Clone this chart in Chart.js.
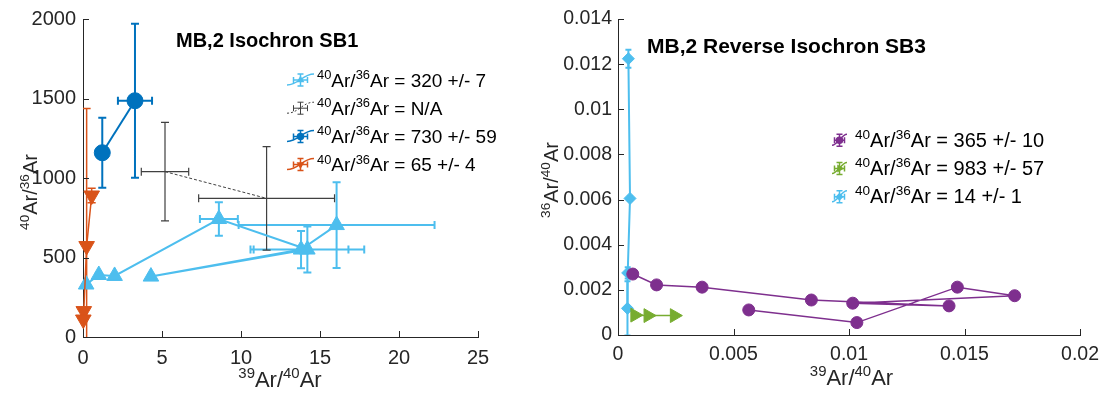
<!DOCTYPE html>
<html>
<head>
<meta charset="utf-8">
<script src="https://cdn.jsdelivr.net/npm/chart.js@4/dist/chart.umd.min.js"></script>
<style>
  html, body { margin: 0; padding: 0; background: #fff; }
  #wrap { position: relative; width: 1107px; height: 393px; overflow: hidden; }
  .panel { position: absolute; top: 0; height: 393px; }
  #pL { left: 0; width: 540px; }
  #pR { left: 540px; width: 567px; }
</style>
</head>
<body>
<div id="wrap">
  <div class="panel" id="pL"><canvas id="cL" width="540" height="393"></canvas></div>
  <div class="panel" id="pR"><canvas id="cR" width="567" height="393"></canvas></div>
</div>
<script>
// ---------- MB,2 Isochron SB1 : 40Ar/36Ar vs 39Ar/40Ar ----------
const isoCyanX    = [0.2, 1.0, 2.0, 8.6, 14.2, 4.3, 13.8, 16.05];
const isoCyanY    = [330, 390, 384, 742, 550, 380, 550, 704];
const isoCyanXErr = [0.1, 0.1, 0.1, 1.2, 3.6, 0.1, 3.0, 6.2];
const isoCyanYErr = [10, 10, 10, 105, 145, 10, 117, 270];

const isoGrayX    = [5.19, 11.62];
const isoGrayY    = [1040, 872];
const isoGrayXErr = [1.5, 4.3];
const isoGrayYErr = [310, 325];

const isoBlueX    = [1.22, 3.29];
const isoBlueY    = [1159, 1486];
const isoBlueXErr = [0.1, 1.08];
const isoBlueYErr = [220, 484];

const isoOrangeX    = [0.55, 0.23, 0.05, 0.02];
const isoOrangeY    = [890, 572, 163, 110];
const isoOrangeXErr = [0.08, 0.05, 0.03, 0.03];
const isoOrangeYErr = [45, 865, 15, 12];

const isoXTicks = [0, 5, 10, 15, 20, 25];
const isoXTickLabels = ['0', '5', '10', '15', '20', '25'];
const isoYTicks = [0, 500, 1000, 1500, 2000];
const isoYTickLabels = ['0', '500', '1000', '1500', '2000'];
const isoLegendValues = ['320 +/- 7', 'N/A', '730 +/- 59', '65 +/- 4'];

// ---------- MB,2 Reverse Isochron SB3 : 36Ar/40Ar vs 39Ar/40Ar ----------
const revPurpleX = [0.00064, 0.00167, 0.00364, 0.00837, 0.01433, 0.01016, 0.01717, 0.01469, 0.01034, 0.00566];
const revPurpleY = [0.00270, 0.00222, 0.00212, 0.00155, 0.00129, 0.00141, 0.00174, 0.00212, 0.00055, 0.00111];
const revPurpleXErr = [0, 0, 0, 0, 0, 0, 0, 0, 0, 0];
const revPurpleYErr = [0, 0, 0, 0, 0, 0, 0, 0, 0, 0];

const revGreenX = [0.00073, 0.00130, 0.00244];
const revGreenY = [0.00088, 0.00086, 0.00086];
const revGreenXErr = [0, 0, 0];
const revGreenYErr = [0, 0, 0];

const revCyanX = [0.00045, 0.00052, 0.00042, 0.00041];
const revCyanY = [0.01224, 0.00605, 0.00275, 0.00118];
const revCyanXErr = [0, 0, 0, 0];
const revCyanYErr = [0.0004, 0.0001, 0.00025, 0.0012];

const revXTicks = [0, 0.005, 0.01, 0.015, 0.02];
const revXTickLabels = ['0', '0.005', '0.01', '0.015', '0.02'];
const revYTicks = [0, 0.002, 0.004, 0.006, 0.008, 0.01, 0.012, 0.014];
const revYTickLabels = ['0', '0.002', '0.004', '0.006', '0.008', '0.01', '0.012', '0.014'];
const revLegendValues = ['365 +/- 10', '983 +/- 57', '14 +/- 1'];

// ---------- styling ----------
const FONT = "'Liberation Sans', Arial, Helvetica, sans-serif";
const INK = '#262626';
const CYAN = '#4DBEEE', BLUE = '#0072BD', ORANGE = '#D95319', GRAY = '#404040',
      PURPLE = '#7E2F8E', GREEN = '#77AC30';
const SUP = 0.68;

function series(xs, ys, xe, ye, style) {
  return Object.assign({
    data: xs.map((x, i) => ({ x, y: ys[i] })),
    xErr: xe, yErr: ye,
    showLine: true, clip: false,
    pointBorderWidth: 1
  }, style);
}

// error bars, clipped to the plot box, drawn under the markers
const errorBars = {
  id: 'errorBars',
  beforeDatasetsDraw(chart) {
    const { ctx, chartArea: a } = chart;
    const sx = chart.scales.x, sy = chart.scales.y;
    ctx.save();
    ctx.beginPath();
    ctx.rect(a.left, a.top, a.right - a.left, a.bottom - a.top);
    ctx.clip();
    chart.data.datasets.slice().sort((p, q) => q.order - p.order).forEach(ds => {
      if (!ds.xErr) return;
      ctx.strokeStyle = ds.errColor || ds.borderColor;
      ctx.lineWidth = ds.errWidth || ds.borderWidth;
      ctx.setLineDash([]);
      const cap = ds.capHalf || 4;
      ctx.beginPath();
      ds.data.forEach((p, i) => {
        const px = sx.getPixelForValue(p.x), py = sy.getPixelForValue(p.y);
        const ex = ds.xErr[i], ey = ds.yErr[i];
        if (ey > 0) {
          const t = sy.getPixelForValue(p.y + ey), b = sy.getPixelForValue(p.y - ey);
          ctx.moveTo(px, t); ctx.lineTo(px, b);
          ctx.moveTo(px - cap, t); ctx.lineTo(px + cap, t);
          ctx.moveTo(px - cap, b); ctx.lineTo(px + cap, b);
        }
        if (ex > 0) {
          const l = sx.getPixelForValue(p.x - ex), r = sx.getPixelForValue(p.x + ex);
          ctx.moveTo(l, py); ctx.lineTo(r, py);
          ctx.moveTo(l, py - cap); ctx.lineTo(l, py + cap);
          ctx.moveTo(r, py - cap); ctx.lineTo(r, py + cap);
        }
      });
      ctx.stroke();
    });
    ctx.restore();
  }
};

// text with superscripts: parts = [[text, isSup], ...]
function richWidth(ctx, parts, size) {
  let w = 0;
  parts.forEach(([t, s]) => {
    ctx.font = `${s ? size * SUP : size}px ${FONT}`;
    w += ctx.measureText(t).width;
  });
  return w;
}
function drawRich(ctx, parts, x, y, size, align) {
  let cx = align === 'center' ? x - richWidth(ctx, parts, size) / 2 : x;
  parts.forEach(([t, s]) => {
    ctx.font = `${s ? size * SUP : size}px ${FONT}`;
    ctx.fillText(t, cx, s ? y - size * 0.4 : y);
    cx += ctx.measureText(t).width;
  });
}
const ratioParts = (a, b) => [[a, true], ['Ar/', false], [b, true], ['Ar', false]];

function legendIcon(ctx, e, x0, x1, cy, half) {
  const xc = (x0 + x1) / 2;
  ctx.save();
  ctx.strokeStyle = e.color;
  ctx.fillStyle = e.color;
  ctx.lineWidth = e.width || 1.5;
  // connecting-line token
  ctx.setLineDash(e.dashed ? [2, 2] : []);
  ctx.beginPath();
  ctx.moveTo(x0, cy + 5);
  ctx.bezierCurveTo(xc - 2, cy + 5, xc + 2, cy - 6, x1, cy - 6);
  ctx.stroke();
  ctx.setLineDash([]);
  // error-bar cross
  ctx.lineWidth = e.dashed ? 1 : 1.5;
  ctx.beginPath();
  ctx.moveTo(xc - half, cy); ctx.lineTo(xc + half, cy);
  ctx.moveTo(xc - half, cy - 3); ctx.lineTo(xc - half, cy + 3);
  ctx.moveTo(xc + half, cy - 3); ctx.lineTo(xc + half, cy + 3);
  ctx.moveTo(xc, cy - 6); ctx.lineTo(xc, cy + 6);
  ctx.moveTo(xc - 3, cy - 6); ctx.lineTo(xc + 3, cy - 6);
  ctx.moveTo(xc - 3, cy + 6); ctx.lineTo(xc + 3, cy + 6);
  ctx.stroke();
  if (e.marker) {
    Chart.helpers.drawPoint(ctx, { pointStyle: e.marker, rotation: e.rotation || 0, radius: 3, borderWidth: 1 }, xc, cy);
  }
  ctx.restore();
}

// titles, axis labels, inward ticks and legend
const decor = {
  id: 'decor',
  afterDraw(chart, args, o) {
    const ctx = chart.ctx, a = chart.chartArea;
    const sx = chart.scales.x, sy = chart.scales.y;
    ctx.save();
    ctx.strokeStyle = INK;
    ctx.lineWidth = 1;
    ctx.beginPath();
    o.xTicks.forEach(v => {
      const p = Math.round(sx.getPixelForValue(v)) + 0.5;
      ctx.moveTo(p, a.bottom); ctx.lineTo(p, a.bottom - 6);
    });
    o.yTicks.forEach(v => {
      const p = Math.round(sy.getPixelForValue(v)) + 0.5;
      ctx.moveTo(a.left, p); ctx.lineTo(a.left + 6, p);
    });
    ctx.stroke();

    ctx.textBaseline = 'alphabetic';
    ctx.textAlign = 'left';
    ctx.fillStyle = '#000';
    ctx.font = `bold ${o.titleSize}px ${FONT}`;
    ctx.fillText(o.title, o.titleX, o.titleY);

    ctx.fillStyle = INK;
    drawRich(ctx, o.xLabel, o.xLabelX, o.xLabelY, o.xLabelSize, 'center');
    ctx.save();
    ctx.translate(o.yLabelX, o.yLabelY);
    ctx.rotate(-Math.PI / 2);
    drawRich(ctx, o.yLabel, 0, 0, o.yLabelSize, 'center');
    ctx.restore();

    ctx.fillStyle = '#000';
    o.legend.forEach((e, i) => {
      const base = o.legendY + i * o.legendStep;
      legendIcon(ctx, e, o.iconX0, o.iconX1, base - 6.5, o.iconHalf);
      drawRich(ctx, ratioParts('40', '36').concat([[' = ' + e.text, false]]), o.textX, base, o.legendSize, 'left');
    });
    ctx.restore();
  }
};

function linearAxis(min, max, ticks, labels, size, pad, fit) {
  return {
    type: 'linear', min, max,
    afterBuildTicks: s => { s.ticks = ticks.map(v => ({ value: v })); },
    afterFit: fit,
    ticks: {
      callback: (v, i) => labels[i],
      font: { family: FONT, size }, color: INK,
      padding: pad, maxRotation: 0, autoSkip: false
    },
    grid: { drawOnChartArea: false, drawTicks: false },
    border: { color: INK, width: 1 }
  };
}

const baseOptions = (padding, scales, decorOpts) => ({
  responsive: false, animation: false, devicePixelRatio: 1,
  layout: { padding },
  plugins: { legend: { display: false }, tooltip: { enabled: false }, decor: decorOpts },
  scales
});

// left panel
new Chart(document.getElementById('cL'), {
  type: 'scatter',
  data: {
    datasets: [
      series(isoCyanX, isoCyanY, isoCyanXErr, isoCyanYErr, {
        order: 4, borderColor: CYAN, backgroundColor: CYAN, borderWidth: 2,
        pointStyle: 'triangle', pointRadius: 9
      }),
      series(isoGrayX, isoGrayY, isoGrayXErr, isoGrayYErr, {
        order: 3, borderColor: GRAY, backgroundColor: GRAY, borderWidth: 1,
        borderDash: [3, 2], pointRadius: 0, errWidth: 1.2
      }),
      series(isoBlueX, isoBlueY, isoBlueXErr, isoBlueYErr, {
        order: 2, borderColor: BLUE, backgroundColor: BLUE, borderWidth: 2,
        pointStyle: 'circle', pointRadius: 8
      }),
      series(isoOrangeX, isoOrangeY, isoOrangeXErr, isoOrangeYErr, {
        order: 1, borderColor: ORANGE, backgroundColor: ORANGE, borderWidth: 1.5,
        pointStyle: 'triangle', pointRotation: 180, pointRadius: 9
      })
    ]
  },
  options: baseOptions(
    { left: 0, right: 62, top: 19, bottom: 0 },
    {
      x: linearAxis(0, 25, isoXTicks, isoXTickLabels, 20, 9, s => { s.height = 56; }),
      y: linearAxis(0, 2000, isoYTicks, isoYTickLabels, 20, 7, s => { s.width = 83; })
    },
    {
      xTicks: isoXTicks, yTicks: isoYTicks,
      title: 'MB,2 Isochron SB1', titleSize: 20, titleX: 176, titleY: 46.5,
      xLabel: ratioParts('39', '40'), xLabelX: 280, xLabelY: 387, xLabelSize: 22,
      yLabel: ratioParts('40', '36'), yLabelX: 37, yLabelY: 192, yLabelSize: 20,
      iconX0: 287, iconX1: 314, iconHalf: 7, textX: 317,
      legendY: 86.5, legendStep: 28.2, legendSize: 19,
      legend: [
        { color: CYAN, marker: 'triangle', text: isoLegendValues[0] },
        { color: GRAY, dashed: true, width: 1, text: isoLegendValues[1] },
        { color: BLUE, marker: 'circle', text: isoLegendValues[2] },
        { color: ORANGE, marker: 'triangle', rotation: 180, text: isoLegendValues[3] }
      ]
    }
  ),
  plugins: [errorBars, decor]
});

// right panel
new Chart(document.getElementById('cR'), {
  type: 'scatter',
  data: {
    datasets: [
      series(revPurpleX, revPurpleY, revPurpleXErr, revPurpleYErr, {
        order: 1, borderColor: PURPLE, backgroundColor: PURPLE, borderWidth: 1.5,
        pointStyle: 'circle', pointRadius: 6
      }),
      series(revGreenX, revGreenY, revGreenXErr, revGreenYErr, {
        order: 2, borderColor: GREEN, backgroundColor: GREEN, borderWidth: 1.5,
        pointStyle: 'triangle', pointRotation: 90, pointRadius: 8
      }),
      series(revCyanX, revCyanY, revCyanXErr, revCyanYErr, {
        order: 3, borderColor: CYAN, backgroundColor: CYAN, borderWidth: 2,
        pointStyle: 'rectRot', pointRadius: 6, capHalf: 3
      })
    ]
  },
  options: baseOptions(
    { left: 0, right: 22, top: 19, bottom: 0 },
    {
      x: linearAxis(0, 0.02, revXTicks, revXTickLabels, 19.5, 8, s => { s.height = 58; }),
      y: linearAxis(0, 0.014, revYTicks, revYTickLabels, 19.5, 6, s => { s.width = 78; })
    },
    {
      xTicks: revXTicks, yTicks: revYTicks,
      title: 'MB,2 Reverse Isochron SB3', titleSize: 21, titleX: 107, titleY: 53.3,
      xLabel: ratioParts('39', '40'), xLabelX: 311.5, xLabelY: 385, xLabelSize: 22,
      yLabel: ratioParts('36', '40'), yLabelX: 18, yLabelY: 180, yLabelSize: 20,
      iconX0: 292, iconX1: 307, iconHalf: 5, textX: 315,
      legendY: 146.7, legendStep: 28.3, legendSize: 20,
      legend: [
        { color: PURPLE, marker: 'circle', text: revLegendValues[0] },
        { color: GREEN, marker: 'triangle', rotation: 90, text: revLegendValues[1] },
        { color: CYAN, marker: 'rectRot', text: revLegendValues[2] }
      ]
    }
  ),
  plugins: [errorBars, decor]
});
</script>
</body>
</html>
